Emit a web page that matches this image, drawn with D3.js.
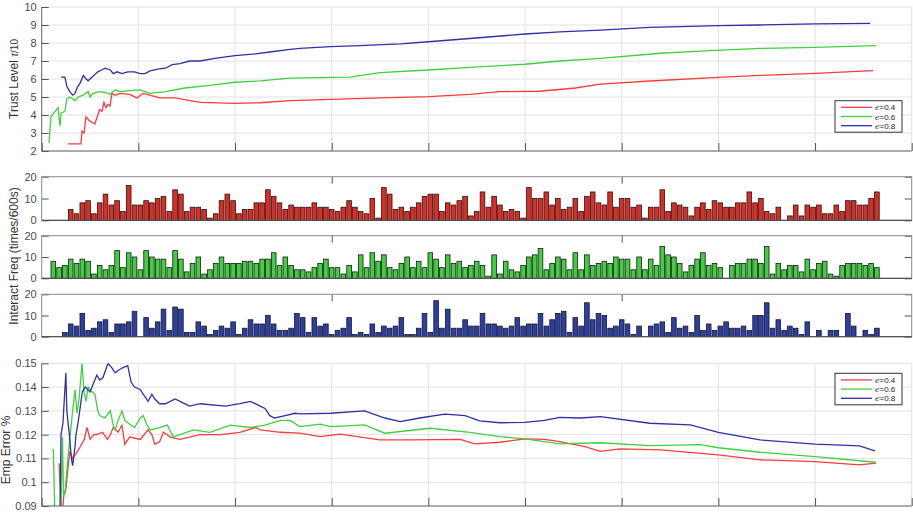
<!DOCTYPE html>
<html>
<head>
<meta charset="utf-8">
<script src="https://cdn.jsdelivr.net/npm/d3@7"></script>
<style>
  body { margin: 0; background: #fff; }
  svg text { font-family: "Liberation Sans", Arial, sans-serif; }
  .tick text { fill: #4a4a4a; font-size: 11px; }
</style>
</head>
<body>
<svg id="chart" width="913" height="512"></svg>
<script>
// ---- data ----
const seriesNames = ["0.4", "0.6", "0.8"];
const lineColors = ["#ff3b3b", "#3fd03f", "#3030a8"];
const barColors = ["#e02a22", "#3fcf3f", "#2c3ea8"];

// trust level (x in sample units 0..900, value /10)
const trustRed = [[27,2.4],[40.6,2.4],[41.7,3.1],[43.8,3.0],[45.8,3.9],[49,3.7],[52,3.6],[55,3.5],[58,4.0],[60,4.3],[62.4,4.2],[64.4,4.7],[66.5,4.4],[68.6,4.6],[70.7,4.5],[72.7,5.2],[75.8,5.1],[81,5.2],[91,5.15],[98.6,4.95],[104.8,5.2],[112,5.1],[122,4.95],[138,4.95],[164,4.7],[200,4.65],[226,4.68],[257,4.8],[299,4.87],[350,4.95],[400,5.02],[443,5.15],[474,5.3],[515,5.32],[552,5.5],[578,5.72],[629,5.89],[700,6.09],[743,6.2],[800,6.31],[860,6.46]];
const trustGreen = [[7.5,2.43],[9.6,3.9],[13.8,4.2],[16.9,4.4],[18.4,3.6],[19,3.4],[20,4.1],[24,4.2],[26,4.9],[29,5.0],[32,4.9],[34.5,4.8],[37.5,5.0],[43,5.1],[48,5.3],[50,5.0],[53,5.2],[60,5.3],[65.5,5.25],[71,5.15],[76,5.4],[81,5.3],[91,5.35],[102,5.4],[107,5.3],[112,5.2],[128,5.3],[148,5.5],[174,5.65],[200,5.82],[226,5.9],[257,6.05],[299,6.09],[319,6.1],[350,6.35],[400,6.5],[443,6.65],[500,6.82],[536,7.0],[578,7.15],[640,7.43],[681,7.55],[743,7.7],[800,7.76],[863,7.85]];
const trustBlue = [[20,6.1],[24,6.1],[26,5.6],[29,5.3],[32,5.1],[34.5,5.2],[36.5,5.5],[40,5.8],[43,6.2],[46,6.0],[48,5.9],[52,6.1],[58,6.4],[62,6.5],[65.5,6.6],[71,6.5],[74,6.3],[78,6.4],[83,6.3],[89,6.4],[96,6.4],[102,6.3],[107,6.3],[112,6.45],[120,6.55],[128,6.6],[135,6.8],[143,6.85],[153,7.0],[164,7.0],[179,7.15],[200,7.3],[221,7.4],[236,7.5],[257,7.65],[267,7.7],[299,7.8],[329,7.85],[371,7.95],[400,8.07],[443,8.25],[500,8.5],[536,8.62],[578,8.72],[629,8.87],[700,8.96],[743,9.0],[800,9.06],[857,9.09]];

// interaction frequency per slot (slot 1..144)
const freqRed = [0,0,0,0,5,3,8,9,3,8,12,7,9,4,16,7,7,9,8,10,11,4,14,12,4,6,6,5,1,3,9,12,9,3,5,5,8,8,14,11,8,5,7,6,6,6,8,6,6,5,4,6,9,6,4,3,10,1,15,12,5,6,4,6,8,11,12,12,4,8,7,9,11,2,4,13,6,11,7,4,5,4,1,15,10,10,13,7,10,5,6,10,4,11,13,8,7,13,6,10,10,6,7,1,6,6,14,4,8,7,6,2,6,8,5,9,8,6,6,8,8,13,8,10,4,3,6,0,2,7,2,7,6,7,3,3,7,4,9,9,7,7,10,13];
const freqGreen = [0,8,5,6,9,7,9,8,2,6,4,6,13,5,12,10,4,13,10,9,9,5,13,9,3,7,10,2,4,7,10,7,7,7,8,8,7,9,9,12,6,10,6,4,4,3,5,7,9,5,5,2,6,3,11,5,12,8,11,5,4,7,10,5,8,5,12,9,5,11,7,8,5,6,8,6,1,11,2,8,4,3,6,10,11,14,4,7,10,9,4,12,4,11,6,7,8,7,10,9,9,4,10,4,9,6,15,11,10,7,3,6,9,12,6,7,5,0,6,7,7,9,9,7,15,2,7,4,6,6,3,9,4,7,8,2,1,6,7,7,7,6,7,5];
const freqBlue = [0,0,0,2,6,5,11,3,4,7,8,2,6,6,7,12,0,9,4,7,13,3,14,13,2,2,7,5,1,3,5,4,7,1,4,8,6,6,10,6,3,3,4,11,9,2,9,5,6,1,3,4,9,1,2,1,6,2,5,4,5,9,1,1,4,11,2,17,4,13,4,4,8,5,5,11,6,6,5,4,5,9,5,6,6,11,5,8,11,12,2,9,5,16,8,11,10,4,5,8,6,1,5,0,5,6,7,2,9,4,5,2,10,3,6,3,5,7,4,4,5,3,10,10,16,4,8,3,5,4,1,7,0,3,0,3,3,0,11,5,0,3,1,4];

// empirical error
const errRed = [[18,0.108],[20,0.09],[21,0.085],[23,0.095],[25,0.097],[26,0.101],[29,0.113],[32,0.11],[35.5,0.112],[40,0.115],[44,0.118],[47,0.123],[50,0.118],[54,0.12],[57,0.12],[63,0.121],[68,0.118],[71,0.12],[74,0.123],[79,0.121],[83,0.124],[86,0.116],[91,0.119],[102,0.118],[110,0.122],[114,0.12],[117,0.116],[122,0.117],[126,0.121],[133,0.119],[143,0.118],[164,0.12],[185,0.12],[205,0.121],[221,0.123],[226,0.122],[247,0.121],[267,0.1206],[288,0.1192],[309,0.1202],[350,0.1178],[381,0.1178],[433,0.118],[448,0.1161],[474,0.1168],[500,0.1182],[520,0.118],[536,0.1171],[562,0.115],[578,0.113],[598,0.114],[640,0.1136],[700,0.1115],[743,0.1094],[800,0.1087],[846,0.1073],[863,0.108]];
const errGreen = [[12,0.114],[13.7,0.085],[15.8,0.085],[20,0.09],[21.5,0.119],[22.5,0.095],[24,0.095],[26,0.105],[29,0.118],[32,0.13],[34.5,0.139],[36.5,0.129],[38.6,0.135],[41.7,0.15],[43.8,0.138],[45.8,0.134],[48,0.14],[52,0.138],[55,0.137],[58,0.13],[60,0.128],[65.5,0.127],[71,0.13],[74,0.124],[76,0.122],[79,0.126],[83,0.13],[86,0.126],[89,0.125],[96,0.123],[102,0.127],[105,0.128],[109,0.124],[112,0.122],[122,0.123],[130,0.124],[136,0.119],[143,0.12],[157,0.122],[174,0.121],[195,0.124],[216,0.123],[231,0.124],[247,0.126],[257,0.126],[267,0.1234],[288,0.1244],[299,0.1234],[334,0.1241],[355,0.1206],[402,0.1227],[443,0.121],[474,0.1192],[500,0.1182],[536,0.1161],[578,0.1166],[629,0.1154],[681,0.1158],[700,0.1145],[743,0.1126],[800,0.1108],[863,0.1084]];
const errBlue = [[17,0.085],[19,0.09],[20,0.12],[22,0.125],[25,0.146],[26,0.13],[28.6,0.12],[30.7,0.11],[32,0.107],[34.5,0.115],[35.5,0.12],[37.6,0.125],[40,0.132],[42,0.138],[45,0.14],[50,0.138],[54,0.142],[57,0.145],[60,0.143],[63.4,0.144],[68.6,0.15],[72.8,0.148],[76,0.146],[79,0.147],[83,0.148],[89,0.149],[92.5,0.142],[96,0.14],[102,0.139],[105,0.137],[110,0.134],[114,0.137],[117,0.135],[122,0.133],[128,0.133],[138,0.135],[143,0.134],[153,0.132],[164,0.133],[190,0.132],[205,0.133],[216,0.134],[226,0.132],[231,0.131],[236,0.128],[241,0.127],[252,0.128],[262,0.129],[267,0.1287],[299,0.129],[334,0.13],[355,0.127],[371,0.1255],[391,0.127],[417,0.1286],[438,0.128],[453,0.1258],[474,0.125],[500,0.1252],[520,0.126],[536,0.1273],[557,0.127],[578,0.1276],[629,0.1248],[671,0.1241],[700,0.121],[743,0.1178],[800,0.116],[846,0.1153],[862,0.1132]];

const trustTicks = [2,3,4,5,6,7,8,9,10];
const freqTicks = [0,10,20];
const errTicks = [0.09,0.1,0.11,0.12,0.13,0.14,0.15];

// ---- layout ----
const left = 41.7, right = 911.7;
const svg = d3.select("#chart");

const x = d3.scaleLinear().domain([0, 900]).range([left, right]);
const xb = d3.scaleLinear().domain([0, 150]).range([left, right]);

function styleAxis(g) {
  g.select(".domain").remove();
  g.selectAll(".tick line").attr("stroke", "#555");
}

function linePanel(id, top, bottom, domain, ticks, fmt, series, labelX) {
  const y = d3.scaleLinear().domain(domain).range([bottom, top]);
  const g = svg.append("g").attr("class", id);

  g.append("clipPath").attr("id", "clip-" + id)
    .append("rect").attr("x", left).attr("y", top).attr("width", right - left).attr("height", bottom - top);

  // grid
  g.append("g").selectAll("line").data(ticks).join("line")
    .attr("x1", left).attr("x2", right)
    .attr("y1", d => y(d)).attr("y2", d => y(d))
    .attr("stroke", "#e2e2e2");
  g.append("g").selectAll("line").data(d3.range(100, 901, 100)).join("line")
    .attr("x1", d => x(d)).attr("x2", d => x(d))
    .attr("y1", top).attr("y2", bottom)
    .attr("stroke", "#e2e2e2");

  const line = d3.line().x(d => x(d[0])).y(d => y(d[1]));
  g.append("g").attr("clip-path", `url(#clip-${id})`)
    .selectAll("path").data(series).join("path")
    .attr("d", d => line(d))
    .attr("fill", "none")
    .attr("stroke", (d, i) => lineColors[i])
    .attr("stroke-width", 1.3);

  g.append("g").attr("transform", `translate(${left},0)`)
    .call(d3.axisLeft(y).tickValues(ticks).tickFormat(fmt).tickSize(-7).tickPadding(5))
    .call(styleAxis);
  g.append("g").attr("transform", `translate(0,${bottom})`)
    .call(d3.axisBottom(x).tickValues(d3.range(0, 901, 100)).tickFormat("").tickSize(-8))
    .call(styleAxis);

  g.append("line").attr("x1", left).attr("x2", left).attr("y1", top).attr("y2", bottom).attr("stroke", "#666");
  g.append("line").attr("x1", left).attr("x2", right).attr("y1", bottom).attr("y2", bottom).attr("stroke", "#666");

  const lbl = g.append("text")
    .attr("transform", `translate(${labelX},${(top + bottom) / 2}) rotate(-90)`)
    .attr("text-anchor", "middle")
    .attr("fill", "#333")
    .style("font-size", "12px");
  return { g, y, lbl };
}

function legend(g, top) {
  const lg = g.append("g");
  lg.append("rect").attr("x", 835).attr("y", top).attr("width", 67).attr("height", 31.5)
    .attr("fill", "#fff").attr("stroke", "#333");
  seriesNames.forEach((s, i) => {
    const yy = top + 6.6 + i * 9.2;
    lg.append("line").attr("x1", 841).attr("x2", 872).attr("y1", yy).attr("y2", yy)
      .attr("stroke", lineColors[i]).attr("stroke-width", 1.3);
    const t = lg.append("text").attr("x", 875).attr("y", yy + 3).attr("fill", "#222").style("font-size", "8px");
    t.append("tspan").style("font-style", "italic").style("font-family", "'DejaVu Serif', serif").text("ϵ");
    t.append("tspan").text("=" + s);
  });
}

// ---- trust panel ----
const trust = linePanel("trust", 7, 151, [2, 10], trustTicks, d3.format("d"),
  [trustRed, trustGreen, trustBlue], 18);
trust.lbl.append("tspan").text("Trust Level ");
trust.lbl.append("tspan").style("font-size", "10px").style("font-style", "italic").text("τ");
trust.lbl.append("tspan").style("font-size", "10px").text("/10");
legend(trust.g, 100.7);

// ---- interaction frequency bars ----
const barPanels = [
  { top: 176.7, bottom: 220.3, data: freqRed },
  { top: 235.7, bottom: 278.3, data: freqGreen },
  { top: 294.3, bottom: 336.7, data: freqBlue }
];
const bw = (xb(1) - xb(0)) * 0.8;

barPanels.forEach((p, k) => {
  const y = d3.scaleLinear().domain([0, 20]).range([p.bottom, p.top]);
  const g = svg.append("g").attr("class", "bars" + k);

  g.selectAll("rect.bar").data(p.data.map((v, i) => ({ i: i + 1, v })).filter(d => d.v > 0))
    .join("rect").attr("class", "bar")
    .attr("x", d => xb(d.i) - bw / 2)
    .attr("width", bw)
    .attr("y", d => y(d.v))
    .attr("height", d => y(0) - y(d.v))
    .attr("fill", barColors[k])
    .attr("stroke", "#1a1a1a")
    .attr("stroke-width", 0.8);

  g.append("g").attr("transform", `translate(${left},0)`)
    .call(d3.axisLeft(y).tickValues(freqTicks).tickSize(-7).tickPadding(5))
    .call(styleAxis);
  g.append("g").attr("transform", `translate(${right},0)`)
    .call(d3.axisRight(y).tickValues(freqTicks).tickSize(-7).tickFormat(""))
    .call(styleAxis);
  g.append("g").attr("transform", `translate(0,${p.top})`)
    .call(d3.axisTop(xb).tickValues([50, 100]).tickSize(-7).tickFormat(""))
    .call(styleAxis);

  g.append("rect").attr("x", left).attr("y", p.top)
    .attr("width", right - left).attr("height", p.bottom - p.top)
    .attr("fill", "none").attr("stroke", "#8a8a8a");
  g.append("line").attr("x1", left).attr("x2", right).attr("y1", p.bottom).attr("y2", p.bottom)
    .attr("stroke", "#444");
});

svg.append("text")
  .attr("transform", `translate(18,256) rotate(-90)`)
  .attr("text-anchor", "middle")
  .attr("fill", "#333")
  .style("font-size", "12px")
  .text("Interact Freq (times/600s)");

// ---- empirical error panel ----
const err = linePanel("err", 363.3, 506, [0.09, 0.15], errTicks, d => d === 0.1 ? "0.1" : d3.format(".2f")(d),
  [errRed, errGreen, errBlue], 10);
err.lbl.attr("transform", `translate(10,450) rotate(-90)`).text("Emp Error %");
legend(err.g, 373.3);
</script>
</body>
</html>
